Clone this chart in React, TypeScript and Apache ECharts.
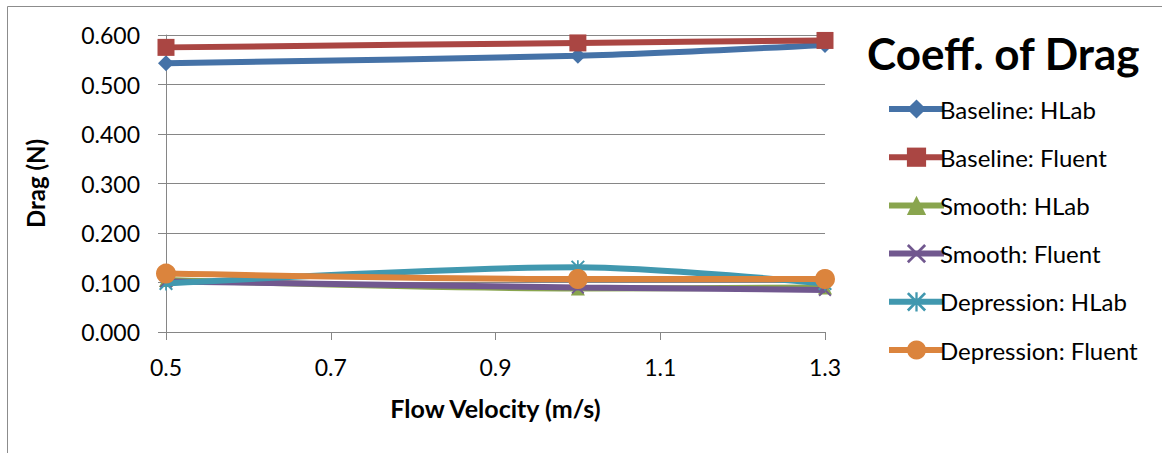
import React, { useEffect, useRef } from "react";
import * as echarts from "echarts";

const velocities = [0.5, 1.0, 1.3];
const seriesNames = [
  "Baseline: HLab",
  "Baseline: Fluent",
  "Smooth: HLab",
  "Smooth: Fluent",
  "Depression: HLab",
  "Depression: Fluent",
];
const baselineHLab = [0.543, 0.558, 0.58];
const baselineFluent = [0.575, 0.584, 0.589];
const smoothHLab = [0.105, 0.088, 0.09];
const smoothFluent = [0.102, 0.09, 0.085];
const depressionHLab = [0.098, 0.131, 0.098];
const depressionFluent = [0.118, 0.107, 0.107];

const colors = ["#4572A7", "#AA4643", "#89A54E", "#71588F", "#4198AF", "#DB843D"];
const X_PATH = "path://M0,1 L1,0 L10,9 L9,10 Z M9,0 L10,1 L1,10 L0,9 Z";
const STAR_PATH =
  "path://M0,1 L1,0 L10,9 L9,10 Z M9,0 L10,1 L1,10 L0,9 Z M4.4,0 L5.6,0 L5.6,10 L4.4,10 Z";
const symbols = ["diamond", "rect", "triangle", X_PATH, STAR_PATH, "circle"];
const symbolSizes = [16, 17, 14, 13, 14, 20];
const allData = [
  baselineHLab,
  baselineFluent,
  smoothHLab,
  smoothFluent,
  depressionHLab,
  depressionFluent,
];

const FONT = "Lato";

export default function App() {
  const ref = useRef<HTMLDivElement>(null);
  useEffect(() => {
    document.body.style.margin = "0";
    const chart = echarts.init(ref.current!, null, { renderer: "svg" });
    chart.setOption({
      animation: false,
      backgroundColor: "#ffffff",
      grid: { left: 166, right: 337, top: 35, bottom: 121, containLabel: false },
      title: {
        text: "Coeff. of Drag",
        left: 862,
        top: 26,
        textStyle: { fontFamily: FONT, fontWeight: "bold", fontSize: 44, color: "#000" },
      },
      legend: {
        orient: "vertical",
        left: 881,
        top: 92,
        itemWidth: 55,
        itemHeight: 24,
        itemGap: 24.2,
        lineStyle: { width: 6 },
        textStyle: {
          fontFamily: FONT,
          fontSize: 24,
          color: "#000",
          padding: [0, 0, 0, -9],
        },
        data: seriesNames,
      },
      xAxis: {
        type: "value",
        min: 0.5,
        max: 1.3,
        interval: 0.2,
        name: "Flow Velocity (m/s)",
        nameLocation: "middle",
        nameGap: 63,
        nameTextStyle: { fontFamily: FONT, fontWeight: "bold", fontSize: 25, color: "#000" },
        axisLine: { show: true, onZero: false, lineStyle: { color: "#868686", width: 1 } },
        axisTick: { show: true, length: 8, lineStyle: { color: "#868686" } },
        axisLabel: {
          fontFamily: FONT,
          fontSize: 23,
          color: "#000",
          margin: 23,
          formatter: (v: number) => v.toFixed(1),
        },
        splitLine: { show: false },
      },
      yAxis: {
        type: "value",
        min: 0,
        max: 0.6,
        interval: 0.1,
        name: "Drag (N)",
        nameLocation: "middle",
        nameGap: 119,
        nameRotate: 90,
        nameTextStyle: { fontFamily: FONT, fontWeight: "bold", fontSize: 24, color: "#000" },
        axisLine: { show: true, lineStyle: { color: "#868686", width: 1 } },
        axisTick: { show: true, length: 8, lineStyle: { color: "#868686" } },
        axisLabel: {
          fontFamily: FONT,
          fontSize: 23,
          color: "#000",
          margin: 26,
          formatter: (v: number) => v.toFixed(3),
        },
        splitLine: { show: true, lineStyle: { color: "#868686", width: 1 } },
      },
      graphic: [
        {
          type: "rect",
          shape: { x: 7.5, y: 6.5, width: 1300, height: 600 },
          style: { fill: "none", stroke: "#8c8c8c", lineWidth: 1 },
          silent: true,
          z: -10,
        },
      ],
      series: seriesNames.map((name, i) => ({
        name,
        type: "line",
        smooth: 0.3,
        data: velocities.map((v, j) => [v, allData[i][j]]),
        symbol: symbols[i],
        symbolSize: symbolSizes[i],
        showAllSymbol: true,
        lineStyle: { color: colors[i], width: 6 },
        itemStyle: { color: colors[i], borderColor: colors[i], borderWidth: 0 },
        z: 2 + i,
      })),
    });
    return () => chart.dispose();
  }, []);
  return <div ref={ref} style={{ width: 1162, height: 453 }} />;
}
